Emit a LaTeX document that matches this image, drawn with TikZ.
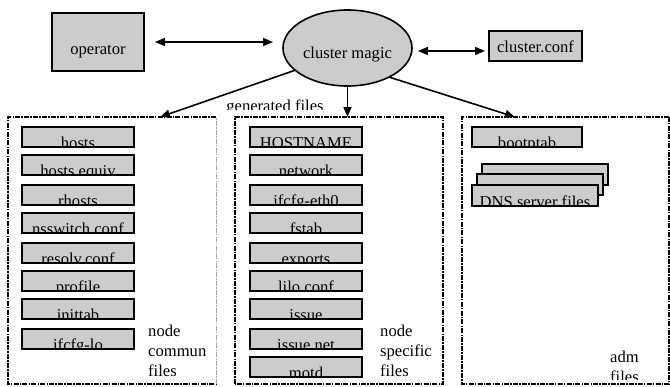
\documentclass[tikz,border=0pt]{standalone}
\usepackage{fontspec}
\setmainfont{Liberation Serif}
\usetikzlibrary{arrows.meta,shapes.geometric,calc}
\definecolor{boxgray}{RGB}{204,204,204}
\newcommand\fbx[4][]{%
  \node[fbox,#1] (#2) at (#3) {};
  \begin{scope}
    \clip (#2.south west) rectangle (#2.north east);
    \node[btext] at ([yshift=-1.5pt]#2.south) {#4};
  \end{scope}
  \draw[fboxline] (#2.south west) rectangle (#2.north east);}
\begin{document}
\begin{tikzpicture}[x=1pt,y=1pt,
  >={Triangle[length=10pt,width=8pt]},
  every node/.style={font=\fontsize{16.6}{20}\selectfont},
  fbox/.style={draw, fill=boxgray, line width=2pt, inner sep=0pt, outer sep=0pt,
    minimum width=112pt, minimum height=20pt},
  fboxline/.style={line width=2pt},
  btext/.style={anchor=base, inner sep=0pt},
  arr/.style={line width=1.6pt},
  frame/.style={inner sep=0pt, outer sep=0pt, minimum width=208pt, minimum height=267pt},
  framedash/.style={line width=1.6pt, dash pattern=on 5pt off 1.2pt on 1.5pt off 1.2pt},
  lbl/.style={anchor=north west, align=left, inner sep=0pt}]
\useasboundingbox (0,0) rectangle (670,-386);

% top row
\node[draw, fill=boxgray, line width=2pt, inner sep=0pt, outer sep=0pt,
  minimum width=92pt, minimum height=58pt, text height=41pt, text depth=17pt]
  (op) at (98,-42) {operator};
\node[ellipse, draw, fill=boxgray, line width=1.6pt, inner sep=0pt, outer sep=0pt,
  minimum width=129pt, minimum height=76pt, text height=20pt, text depth=0pt]
  (cm) at (347.5,-48) {cluster magic};
\node[draw, fill=boxgray, line width=2pt, inner sep=0pt, outer sep=0pt,
  minimum width=93pt, minimum height=30pt, text height=13.4pt, text depth=0pt]
  (cc) at (535.5,-46) {cluster.conf};

\draw[arr,<->] ([xshift=11pt]op.east) -- ([xshift=-10pt]cm.west |- op.east);
\draw[arr,<->] ([shift={(6pt,-3pt)}]cm.east) -- ([shift={(-4pt,-3pt)}]cm.east -| cc.west);

% frames
\node[frame] (f1) at (112,-250.5) {};
\node[frame] (f2) at (339,-250.5) {};
\node[frame, minimum width=207pt] (f3) at (565.5,-250.5) {};
\draw[framedash] (f1.north east) -- (f1.north west) -- (f1.south west) -- (f1.south east);
\draw[line width=0.6pt, gray!70, dash pattern=on 5pt off 1.2pt on 1.5pt off 1.2pt] (f1.south east) -- (f1.north east);
\draw[framedash] (f2.south west) rectangle (f2.north east);
\draw[framedash] (f3.north east) -- (f3.north west) -- (f3.south west) -- (f3.south east) -- (f3.north east);

% generated files arrows
\coordinate (t1) at (160,-117);
\coordinate (t2) at (347.5,-117);
\coordinate (t3) at (515,-117);
\draw[arr,->] (cm.203) -- (t1);
\draw[arr,->] (cm.south) -- (t2);
\draw[arr,->] (cm.-35) -- (t3);
\begin{scope}
  \clip (200,-90) rectangle (350,-109);
  \node[btext] (gf) at (275,-111) {generated files};
\end{scope}

% node commun files
\fbx{a1}{78,-137}{hosts}
\fbx{a2}{78,-165}{hosts.equiv}
\fbx{a3}{78,-195}{rhosts}
\fbx{a4}{78,-223}{nsswitch.conf}
\fbx{a5}{78,-253}{resolv.conf}
\fbx{a6}{78,-281}{profile}
\fbx{a7}{78,-309}{inittab}
\fbx{a8}{78,-339}{ifcfg-lo}
\node[lbl] (l1) at (148,-324.8) {node\\commun\\files};

% node specific files
\fbx{b1}{306,-137}{HOSTNAME}
\fbx{b2}{306,-165}{network}
\fbx{b3}{306,-195}{ifcfg-eth0}
\fbx{b4}{306,-223}{fstab}
\fbx{b5}{306,-253}{exports}
\fbx{b6}{306,-281}{lilo.conf}
\fbx{b7}{306,-309}{issue}
\fbx{b8}{306,-339}{issue.net}
\fbx{b9}{306,-367}{motd}
\node[lbl] (l2) at (380,-324.8) {node\\specific\\files};

% adm files
\fbx[minimum width=110pt]{c1}{527,-137}{bootptab}
\node[fbox, minimum width=126pt, minimum height=21pt] (d3) at (545,-174.5) {};
\node[fbox, minimum width=126pt, minimum height=21pt] (d2) at (539.5,-184.5) {};
\fbx[minimum width=126pt, minimum height=21pt]{d1}{535,-195}{DNS server files}
\begin{scope}
  \clip (600,-340) rectangle (670,-379);
  \node[lbl] (l3) at (610,-350.8) {adm\\files};
\end{scope}
\end{tikzpicture}
\end{document}
